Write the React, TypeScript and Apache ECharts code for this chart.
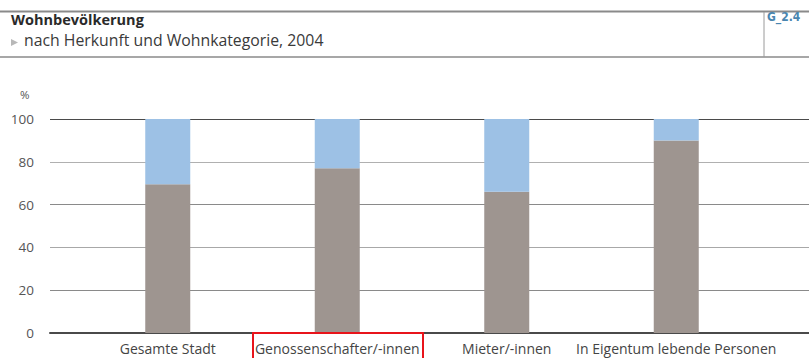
import React, { useEffect, useRef } from "react";
import * as echarts from "echarts";

// Wohnkategorien
const categories = [
  "Gesamte Stadt",
  "Genossenschafter/-innen",
  "Mieter/-innen",
  "In Eigentum lebende Personen",
];

// Anteile in % (unterer und oberer Balkenteil)
const lowerShare = [69.5, 77, 66, 90];
const upperShare = [30.5, 23, 34, 10];

const yTicks = [0, 20, 40, 60, 80, 100];

const FONT = "'Open Sans'";

export default function App() {
  const ref = useRef<HTMLDivElement>(null);

  useEffect(() => {
    if (!ref.current) return;
    const chart = echarts.init(ref.current, undefined, { renderer: "svg" });

    const option: echarts.EChartsOption = {
      animation: false,
      backgroundColor: "#ffffff",
      textStyle: { fontFamily: FONT },
      grid: [
        { left: 50, right: 0, top: 119, bottom: 25 },
        { left: 83, right: 48, top: 119, bottom: 25 },
      ],
      xAxis: [
        {
          type: "value",
          gridIndex: 0,
          position: "top",
          min: 0,
          max: 1,
          axisLine: { show: true, lineStyle: { color: "#4a4a4a", width: 2 } },
          axisTick: { show: false },
          axisLabel: { show: false },
          splitLine: { show: false },
        },
        {
          type: "category",
          gridIndex: 1,
          data: categories,
          axisLine: { show: false },
          axisTick: { show: false },
          axisLabel: {
            color: "#444444",
            fontSize: 14,
            fontFamily: FONT,
            margin: 8,
            interval: 0,
          },
        },
      ],
      yAxis: [
        {
          type: "value",
          gridIndex: 0,
          min: yTicks[0],
          max: yTicks[yTicks.length - 1],
          interval: 20,
          axisLine: { show: false },
          axisTick: { show: false },
          axisLabel: { color: "#555555", fontSize: 13.5, margin: 16, fontFamily: FONT },
          splitLine: {
            show: true,
            lineStyle: { color: ["#7a7a7a", "#8a8a8a", "#a8a8a8", "#8a8a8a", "#b0b0b0", "#4a4a4a"], width: 1 },
          },
        },
        {
          type: "value",
          gridIndex: 1,
          min: 0,
          max: 100,
          show: false,
          splitLine: { show: false },
        },
      ],
      series: [
        {
          type: "bar",
          name: "unten",
          xAxisIndex: 1,
          yAxisIndex: 1,
          stack: "anteil",
          barWidth: 45,
          data: lowerShare,
          itemStyle: { color: "#9e9590" },
        },
        {
          type: "bar",
          name: "oben",
          xAxisIndex: 1,
          yAxisIndex: 1,
          stack: "anteil",
          barWidth: 45,
          data: upperShare,
          itemStyle: { color: "#9dc1e5" },
        },
      ],
      graphic: [
        {
          type: "line",
          shape: { x1: 0, y1: 11.5, x2: 809, y2: 11.5 },
          style: { stroke: "#8a8a8a", lineWidth: 2 },
        },
        {
          type: "line",
          shape: { x1: 0, y1: 57, x2: 809, y2: 57 },
          style: { stroke: "#8a8a8a", lineWidth: 1.5 },
        },
        {
          type: "line",
          shape: { x1: 764, y1: 12, x2: 764, y2: 57 },
          style: { stroke: "#9a9a9a", lineWidth: 1 },
        },
        {
          type: "text",
          left: 11,
          top: 12,
          style: {
            text: "Wohnbevölkerung",
            font: `bold 14.5px ${FONT}`,
            fill: "#2a2a2a",
          },
        },
        {
          type: "polygon",
          shape: { points: [[11, 39], [11, 46], [18, 42.5]] },
          style: { fill: "#b8b8b8" },
        },
        {
          type: "text",
          left: 24,
          top: 32,
          style: {
            text: "nach Herkunft und Wohnkategorie, 2004",
            font: `15.8px ${FONT}`,
            fill: "#3a3a3a",
          },
        },
        {
          type: "text",
          left: 767,
          top: 11,
          style: {
            text: "G_2.4",
            font: `bold 12px 'DejaVu Sans Condensed'`,
            fill: "#4a86b0",
          },
        },
        {
          type: "text",
          left: 20,
          top: 88,
          style: { text: "%", font: `11.5px ${FONT}`, fill: "#555555" },
        },
        {
          type: "rect",
          shape: { x: 253, y: 333, width: 170, height: 30 },
          style: { fill: "none", stroke: "#e8141b", lineWidth: 2 },
          z: 100,
        },
      ],
    };

    chart.setOption(option);
    return () => chart.dispose();
  }, []);

  return (
    <div
      ref={ref}
      style={{ position: "fixed", left: 0, top: 0, width: 809, height: 358 }}
    />
  );
}
